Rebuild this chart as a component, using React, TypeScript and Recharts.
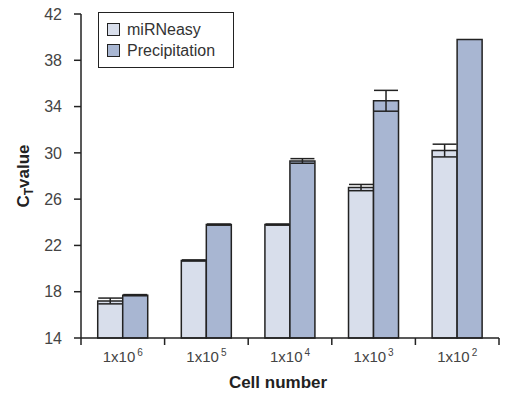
import React from 'react';
import { Bar, BarChart, ErrorBar, Legend, XAxis, YAxis } from 'recharts';

// cell numbers, shown as 1x10^n
const exponents = ['6', '5', '4', '3', '2'];
const miRNeasy = [17.2, 20.7, 23.8, 27.0, 30.2];
const miRNeasyErr = [0.25, 0.05, 0.05, 0.27, 0.55];
const precipitation = [17.7, 23.8, 29.3, 34.5, 39.8];
const precipitationErr = [0.05, 0.05, 0.2, 0.9, null];
const yTicks = [14, 18, 22, 26, 30, 34, 38, 42];

const seriesNames = ['miRNeasy', 'Precipitation'];
const seriesColours = ['#d8deeb', '#a8b6d2'];

const data = exponents.map((exp, i) => ({
  exp,
  miRNeasy: miRNeasy[i],
  miRNeasyErr: miRNeasyErr[i],
  precipitation: precipitation[i],
  precipitationErr: precipitationErr[i],
}));

const font = '"Liberation Sans", Arial, sans-serif';
const ink = '#222';

// x tick: label + tick marks at the band edges
const CellTick = (props: any) => {
  const { x, y, payload, index, visibleTicksCount } = props;
  const half = payload.offset || 0;
  const last = index === visibleTicksCount - 1;
  return (
    <g>
      <line x1={x - half} x2={x - half} y1={y} y2={y + 7} stroke={ink} strokeWidth={1.5} />
      {last && <line x1={x + half} x2={x + half} y1={y} y2={y + 7} stroke={ink} strokeWidth={1.5} />}
      <text x={x} y={y + 24} textAnchor="middle" fontSize={15} fill="#444" fontFamily={font}>
        1x10
        <tspan fontSize={10} dx={2} dy={-6}>{payload.value}</tspan>
      </text>
    </g>
  );
};

const LegendBox = () => (
  <div
    style={{
      border: `1.5px solid ${ink}`,
      padding: '6px 8px',
      background: '#fff',
      fontFamily: font,
      fontSize: 16,
      color: '#333',
      lineHeight: '21px',
      boxSizing: 'border-box',
    }}
  >
    {seriesNames.map((name, i) => (
      <div key={name} style={{ display: 'flex', alignItems: 'center' }}>
        <span
          style={{
            display: 'inline-block',
            width: 11,
            height: 11,
            border: `1.5px solid ${ink}`,
            background: seriesColours[i],
            marginRight: 7,
          }}
        />
        {name}
      </div>
    ))}
  </div>
);

export default function App() {
  return (
    <div style={{ position: 'absolute', left: 0, top: 0, background: '#fff' }}>
      <BarChart
        width={506}
        height={393}
        data={data}
        margin={{ top: 14, right: 7, left: 0, bottom: 25 }}
        barCategoryGap="20%"
        barGap={0}
      >
        <XAxis
          dataKey="exp"
          height={30}
          tickLine={false}
          tickSize={0}
          tickMargin={0}
          axisLine={{ stroke: ink, strokeWidth: 1.5 }}
          tick={<CellTick />}
          label={{
            content: () => (
              <text x={278} y={388} textAnchor="middle" fontSize={17} fontWeight="bold" fill={ink} fontFamily={font}>
                Cell number
              </text>
            ),
          }}
        />
        <YAxis
          width={81}
          domain={[14, 42]}
          ticks={yTicks}
          interval={0}
          tickSize={7}
          tickMargin={12}
          axisLine={{ stroke: ink, strokeWidth: 1.5 }}
          tickLine={{ stroke: ink, strokeWidth: 1.5 }}
          tick={{ fontSize: 16, fill: '#444', fontFamily: font }}
          label={{
            content: () => (
              <text
                x={29}
                y={176}
                transform="rotate(-90, 29, 176)"
                textAnchor="middle"
                fontSize={17}
                fontWeight="bold"
                fill={ink}
                fontFamily={font}
              >
                C<tspan fontSize={12} dy={4}>T</tspan>
                <tspan dy={-4}>value</tspan>
              </text>
            ),
          }}
        />
        <Legend
          verticalAlign="middle"
          align="center"
          layout="vertical"
          content={<LegendBox />}
          wrapperStyle={{ left: 98, top: 12, width: 136 }}
        />
        <Bar dataKey="miRNeasy" name="miRNeasy" fill={seriesColours[0]} stroke={ink} strokeWidth={1.5} isAnimationActive={false}>
          <ErrorBar dataKey="miRNeasyErr" width={12} stroke={ink} strokeWidth={1.5} />
        </Bar>
        <Bar dataKey="precipitation" name="Precipitation" fill={seriesColours[1]} stroke={ink} strokeWidth={1.5} isAnimationActive={false}>
          <ErrorBar dataKey="precipitationErr" width={12} stroke={ink} strokeWidth={1.5} />
        </Bar>
      </BarChart>
    </div>
  );
}
